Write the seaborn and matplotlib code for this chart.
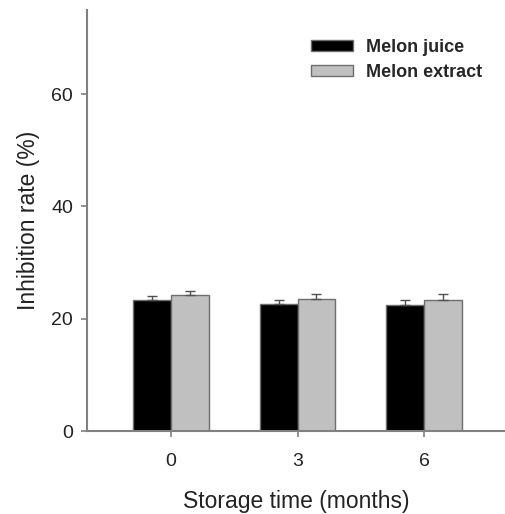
import matplotlib
matplotlib.use("Agg")
import matplotlib.pyplot as plt
import seaborn as sns
import pandas as pd
import numpy as np
from matplotlib.patches import Patch

storage_months = ["0", "3", "6"]
series_names = ["Melon juice", "Melon extract"]
juice_values = [23.3, 22.6, 22.5]
extract_values = [24.2, 23.5, 23.4]
juice_err = [0.7, 0.8, 0.9]
extract_err = [0.8, 0.9, 1.0]

df = pd.DataFrame({
    "month": storage_months * 2,
    "series": [series_names[0]] * 3 + [series_names[1]] * 3,
    "value": juice_values + extract_values,
})

sns.set_style("ticks")
plt.rcParams["font.family"] = ["Liberation Sans", "DejaVu Sans"]

fig = plt.figure(figsize=(5.05, 5.14), dpi=100)
ax = fig.add_axes([87 / 505, 1 - 431 / 514, 1 - 87 / 505, (431 - 10) / 514])

colors = {"Melon juice": "#000000", "Melon extract": "#c0c0c0"}
sns.barplot(data=df, x="month", y="value", hue="series", order=storage_months,
            hue_order=series_names, palette=colors, width=0.6, errorbar=None,
            edgecolor="#6e6e6e", linewidth=1.0, saturation=1, ax=ax, legend=False)

# error bars (upper only)
errs = {series_names[0]: juice_err, series_names[1]: extract_err}
vals = {series_names[0]: juice_values, series_names[1]: extract_values}
patches = ax.patches
for si, name in enumerate(series_names):
    for ci in range(len(storage_months)):
        p = patches[si * len(storage_months) + ci]
        xc = p.get_x() + p.get_width() / 2
        ax.errorbar(xc, vals[name][ci], yerr=[[0], [errs[name][ci]]], fmt="none",
                    ecolor="#505050", elinewidth=1.0, capsize=3.5, capthick=1.0)

ax.set_ylim(0, 75)
ax.set_xlim(-0.664, 2.64)
ax.set_yticks([0, 20, 40, 60])
ax.set_xlabel("Storage time (months)", fontsize=16.5, color="#222222", labelpad=15)
ax.set_ylabel("Inhibition rate (%)", fontsize=16.5, color="#222222", labelpad=8)
ax.tick_params(axis="both", labelsize=14, colors="#808080", labelcolor="#222222",
               length=4, width=1.2, direction="out")
ax.tick_params(axis="x", pad=11.5)
ax.tick_params(axis="y", pad=6)
for s in ["top", "right"]:
    ax.spines[s].set_visible(False)
for s in ["left", "bottom"]:
    ax.spines[s].set_color("#808080")
    ax.spines[s].set_linewidth(1.5)

handles = [Patch(facecolor=colors[n], edgecolor="#6e6e6e", label=n) for n in series_names]
leg = ax.legend(handles=handles, loc="upper left", bbox_to_anchor=((311 - 87) / 418, (431 - 39) / 421),
                frameon=False, handlelength=2.3, handleheight=0.55, handletextpad=0.75,
                labelspacing=0.45, borderpad=0, borderaxespad=0,
                prop={"size": 13, "weight": "bold"})

fig.savefig("out.png", dpi=100)
